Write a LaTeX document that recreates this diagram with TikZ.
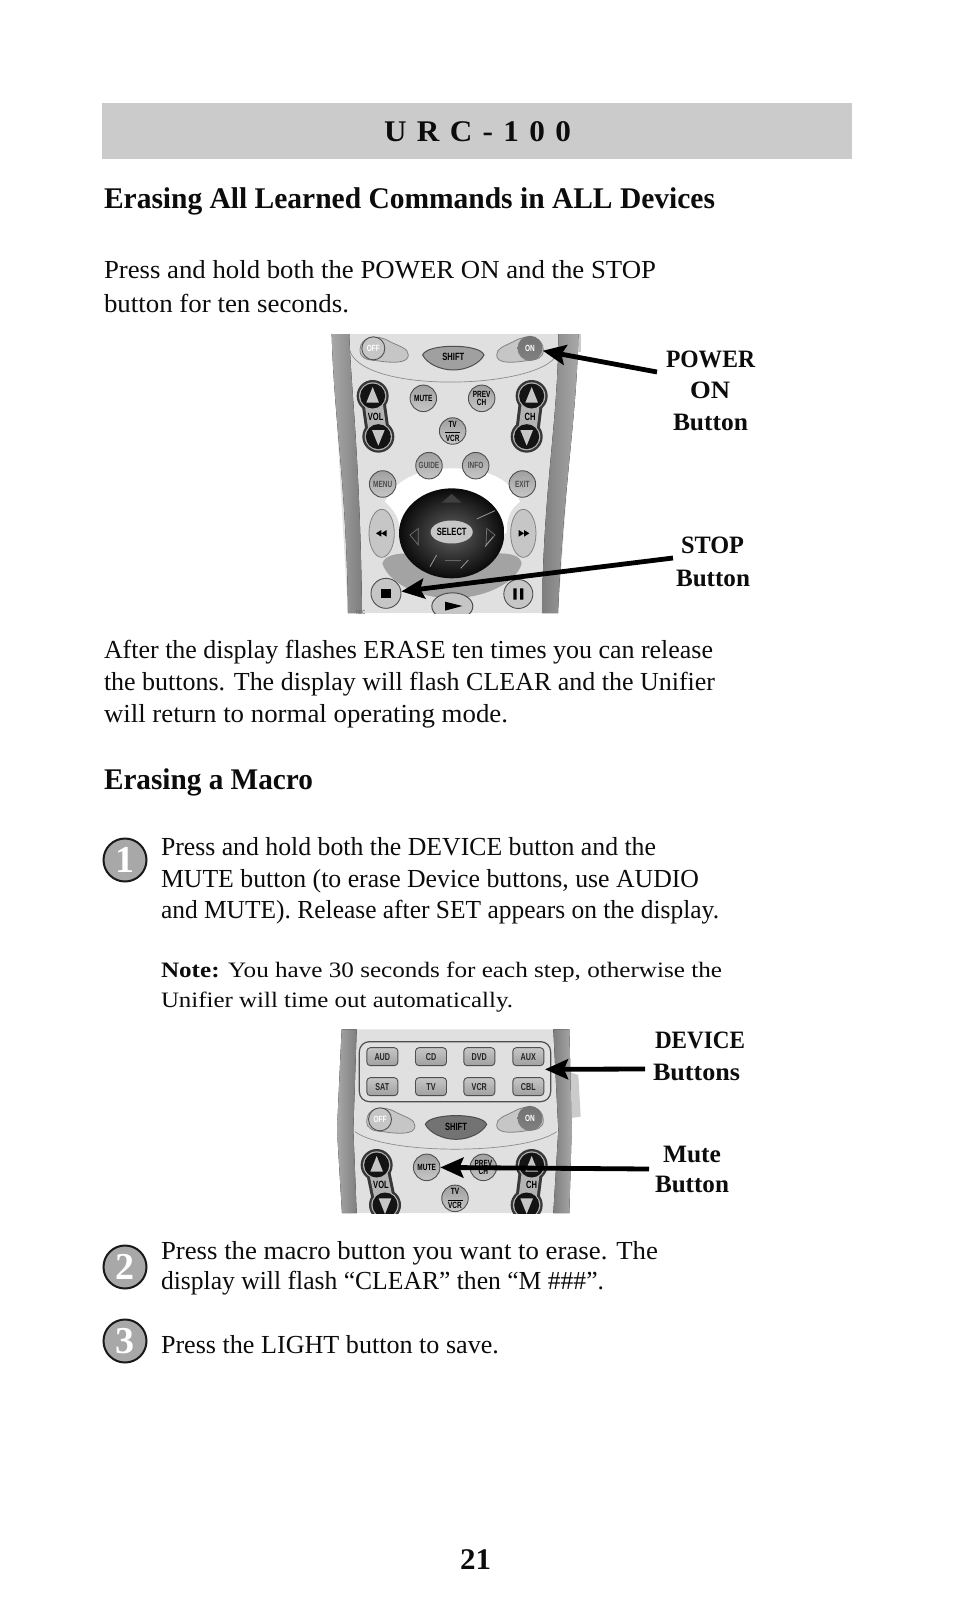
\documentclass[tikz,border=0pt]{standalone}
\usepackage{fontspec}
\usepackage{graphicx}
\usetikzlibrary{arrows.meta,shapes.geometric,calc}
\setmainfont{Liberation Serif}
\newfontfamily\btf[FakeStretch=0.72]{Liberation Sans}
\definecolor{barg}{HTML}{CBCBCB}
\definecolor{bodyg}{HTML}{E0E0E0}
\definecolor{bandd}{HTML}{7E7E7E}
\definecolor{bandl}{HTML}{A8A8A8}
\definecolor{btng}{HTML}{A0A0A0}
\definecolor{btnl}{HTML}{C6C6C6}
\definecolor{rim}{HTML}{4E4E4E}
\definecolor{ink}{HTML}{0C0C0C}
\newcommand\fsz[1]{\fontsize{#1}{#1}\selectfont}
% name, x, baseline, width, size, text
\newcommand\tl[6]{\node[txtline] (#1) at (#2,#3) {\fsz{#5}\resizebox{#4pt}{\height}{#6}};}
\newcommand\tb[6]{\node[txtline] (#1) at (#2,#3) {\fsz{#5}\bfseries\resizebox{#4pt}{\height}{#6}};}
% round button: name,x,y,text,colour
\newcommand\rbn[5]{\node[rbtn,text=#5] (#1) at (#2,#3) {#4};}
\newcommand\sqb[4]{\node[sbtn] (#1) at (#2,#3) {#4};}
\newcommand\offblob[2]{\filldraw[blob,shift={(#1,#2)}] (150,90) .. controls (150,50) and (200,40) .. (240,65) .. controls (270,80) and (295,85) .. (295,105) .. controls (295,130) and (250,130) .. (200,122) .. controls (170,120) and (150,115) .. (150,90) -- cycle;}
\newcommand\onblob[2]{\filldraw[blob,shift={(#1,#2)}] (700,90) .. controls (700,50) and (650,40) .. (610,65) .. controls (580,80) and (560,85) .. (560,105) .. controls (560,130) and (600,130) .. (650,122) .. controls (680,120) and (700,115) .. (700,90) -- cycle;}
\newcommand\shiftblob[2]{\filldraw[fill=#1,draw=rim,line width=1pt,shift={#2}] (338,105) .. controls (350,70) and (510,70) .. (522,105) .. controls (510,130) and (470,150) .. (430,150) .. controls (390,150) and (350,130) .. (338,105) -- cycle;}
% rocker: name prefix, x1,y1,x2,y2, label, labelx, labely
\newcommand\rocker[8]{%
  \draw[line width=24pt,rim!70!black] (#2,#3) -- (#4,#5);
  \fill[rim!70!black] (#2,#3) circle (48) (#4,#5) circle (48);
  \fill[btng!80!white] (#2,#3) circle (41) (#4,#5) circle (41);
  \draw[line width=18pt,btng!80!white] (#2,#3) -- (#4,#5);
  \node[rock] (#1u) at (#2,#3) {};
  \node[rock] (#1d) at (#4,#5) {};
  \fill[btnl] ($(#2,#3)+(0,-27)$) -- ($(#2,#3)+(19,20)$) -- ($(#2,#3)+(-19,20)$) -- cycle;
  \fill[btnl] ($(#4,#5)+(0,27)$) -- ($(#4,#5)+(19,-20)$) -- ($(#4,#5)+(-19,-20)$) -- cycle;
  \node[blabel,text=black] (#1t) at (#7,#8) {#6};
}
\tikzset{
  txtline/.style={anchor=base west,inner sep=0pt,outer sep=0pt,text=ink},
  rbtn/.style={circle,draw=rim,line width=0.9pt,top color=btng,bottom color=btnl,minimum size=26.5pt,inner sep=0pt,align=center,font=\btf\bfseries\fsz{9}},
  sbtn/.style={rectangle,rounded corners=3.5pt,draw=rim,line width=0.9pt,top color=btnl,bottom color=btng,minimum width=31pt,minimum height=18pt,inner sep=0pt,text=black!85,font=\btf\bfseries\fsz{10}},
  blob/.style={fill=btnl,draw=rim!70,line width=.8pt},
  rock/.style={circle,fill=black!92,minimum size=25pt,inner sep=0pt},
  blabel/.style={inner sep=0pt,font=\btf\bfseries\fsz{10.5}},
  pointer/.style={line width=4.8pt,draw=black,-{Stealth[length=23pt,width=20pt,inset=4pt]}},
  stepc/.style={circle,fill=black!34,draw=black!90,line width=2pt,minimum size=43pt,inner sep=0pt,text=white,font=\bfseries\fsz{38}},
}
\begin{document}
\begin{tikzpicture}[x=1pt,y=-1pt]
\useasboundingbox (0,0) rectangle (954,1616);
\fill[white] (0,0) rectangle (954,1616);
% header bar
\fill[barg] (102,103) rectangle (852,159);
\tb{title}{384}{142}{187}{30}{U\,\,R\,\,C\,\,-\,\,1\,\,0\,\,0}
\tb{h1}{104}{208}{611}{30}{Erasing All Learned Commands in ALL Devices}
\tl{p1}{104}{278}{552}{26}{Press and hold both the POWER ON and the STOP}
\tl{p2}{104}{312}{245}{26}{button for ten seconds.}
\tl{a1}{104}{658}{609}{26}{After the display flashes ERASE ten times you can release}
\tl{a2}{104}{690}{611}{26}{the buttons. The display will flash CLEAR and the Unifier}
\tl{a3}{104}{722}{404}{26}{will return to normal operating mode.}
\tb{h2}{104}{789}{209}{30}{Erasing a Macro}
\node[stepc] (s1) at (125,860) {1};
\tl{b1}{161}{855}{495}{26}{Press and hold both the DEVICE button and the}
\tl{b2}{161}{887}{538}{26}{MUTE button (to erase Device buttons, use AUDIO}
\tl{b3}{161}{918}{558}{26}{and MUTE). Release after SET appears on the display.}
\tl{n1}{161}{977}{561}{22}{\textbf{Note:} You have 30 seconds for each step, otherwise the}
\tl{n2}{161}{1007}{352}{22}{Unifier will time out automatically.}
\node[stepc] (s2) at (125,1267) {2};
\tl{c1}{161}{1259}{497}{26}{Press the macro button you want to erase. The}
\tl{c2}{161}{1289}{443}{26}{display will flash “CLEAR” then “M \#\#\#”.}
\node[stepc] (s3) at (125,1341) {3};
\tl{c3}{161}{1353}{338}{26}{Press the LIGHT button to save.}
\tb{pg}{460}{1569}{31}{30}{21}
% ---------- remote 1
\begin{scope}[shift={(310,320)},x=0.33333pt,y=-0.33333pt]
  \begin{scope}
    \clip (60,42) rectangle (815,879);
    \fill[bodyg] (65,42) -- (805,42) -- (744,879) -- (114,879) -- cycle;
    \fill[barg] (800,42) rectangle (812,95);
    \fill[left color=bandl,right color=bandd] (65,42) -- (118,42) .. controls (122,200) and (150,400) .. (156,879) -- (114,879) .. controls (110,500) and (72,300) .. (65,42) -- cycle;
    \fill[left color=bandd,right color=bandl] (745,42) -- (805,42) .. controls (800,300) and (760,500) .. (744,879) -- (696,879) .. controls (700,500) and (745,300) .. (745,42) -- cycle;
    \draw[black!45,line width=.7pt] (117,80) .. controls (130,230) and (730,210) .. (746,90);
    \fill[white] (225,545) .. controls (260,470) and (340,445) .. (430,445) .. controls (520,445) and (600,470) .. (630,545) .. controls (600,570) and (590,590) .. (590,640) -- (270,640) .. controls (270,590) and (250,570) .. (225,545) -- cycle;
    \fill[black!36] (217,730) .. controls (225,705) and (260,700) .. (300,700) -- (560,700) .. controls (600,700) and (630,705) .. (635,730) .. controls (620,790) and (520,835) .. (425,835) .. controls (330,835) and (235,790) .. (217,730) -- cycle;
    \offblob{0}{0}
    \onblob{0}{0}
    \shiftblob{btng}{(0,0)}
    \node[rbtn,minimum size=23pt,text=white,top color=btnl,bottom color=btnl] (off1) at (190,85) {OFF};
    \node[rbtn,minimum size=25pt,text=white,top color=black!55,bottom color=black!50,draw=none] (on1) at (660,85) {ON};
    \node[blabel,text=black] (shift1) at (430,112) {SHIFT};
    \rocker{v1}{188}{228}{205}{350}{VOL}{197}{292}
    \rocker{c1r}{665}{228}{650}{350}{CH}{660}{290}
    \rbn{mute1}{340}{235}{MUTE}{black}
    \rbn{prev1}{515}{235}{PREV\\[-1pt]CH}{black}
    \rbn{tv1}{428}{333}{TV\\[-3pt]\rule{15pt}{.6pt}\\[-1pt]VCR}{black}
    \rbn{guide}{357}{437}{GUIDE}{black!70}
    \rbn{info}{497}{437}{INFO}{black!70}
    \rbn{menu}{218}{492}{MENU}{black!70}
    \rbn{exit}{637}{492}{EXIT}{black!70}
    % transport
    \filldraw[blob] (215,640) ellipse (38 and 72);
    \filldraw[blob] (640,640) ellipse (38 and 72);
    \fill[black] (198,640) -- (214,630) -- (214,650) -- cycle (214,640) -- (230,630) -- (230,650) -- cycle;
    \fill[black] (658,640) -- (642,630) -- (642,650) -- cycle (642,640) -- (626,630) -- (626,650) -- cycle;
    % d-pad
    \shade[inner color=black!62,outer color=black!96] (425,640) ellipse (158 and 135);
    \fill[black!75] (395,548) -- (425,522) -- (455,548) -- cycle;
    \draw[black!55,line width=.7pt] (530,625) -- (555,645) -- (528,675) -- cycle;
    \draw[black!55,line width=.7pt] (325,625) -- (300,645) -- (325,675) -- cycle;
    \draw[black!60,line width=1pt] (405,722) -- (452,722);
    \draw[black!40,line width=.8pt] (500,597) -- (555,572) (525,680) -- (550,650) (360,740) -- (380,705) (452,745) -- (475,720);
    \node[ellipse,fill=btnl,minimum width=37pt,minimum height=23pt,inner sep=0pt,font=\btf\bfseries\fsz{10.5},text=black] (select) at (425,636) {SELECT};
    % bottom row
    \node[rbtn,minimum size=30pt,top color=btnl,bottom color=btnl] (stop) at (228,820) {};
    \fill[black] (214,806) rectangle (242,834);
    \node[rbtn,minimum size=29pt,top color=btnl,bottom color=btnl] (pause) at (625,822) {};
    \fill[black] (610,805) rectangle (620,839) (630,805) rectangle (640,839);
    \node[ellipse,draw=rim,line width=1pt,fill=btnl,minimum width=41pt,minimum height=27pt,inner sep=0pt] (play) at (427,859) {};
    \fill[black] (405,845) -- (457,858) -- (405,872) -- cycle;
    \node[inner sep=0pt,font=\btf\bfseries\fsz{6},text=black!55] (rec) at (152,878) {REC};
  \end{scope}
\end{scope}
% ---------- remote 2
\begin{scope}[shift={(320,990)},x=0.33333pt,y=-0.33333pt]
  \begin{scope}
    \clip (40,118) rectangle (785,669);
    \fill[barg] (745,245) -- (775,255) -- (782,380) -- (745,385) -- cycle;
    \fill[bodyg] (65,118) -- (748,118) -- (755,420) -- (748,669) -- (66,669) -- (51,420) -- cycle;
    \fill[left color=bandl,right color=bandd] (65,118) -- (110,118) -- (100,420) -- (110,669) -- (66,669) -- (51,420) -- cycle;
    \fill[left color=bandd,right color=bandl] (700,118) -- (748,118) -- (755,420) -- (748,669) -- (700,669) -- (715,420) -- cycle;
    \draw[black!45,line width=.7pt] (105,425) .. controls (200,495) and (610,495) .. (710,425);
    \draw[rim,line width=1.2pt,rounded corners=10pt] (118,155) rectangle (692,335);
    \sqb{aud}{187}{200}{AUD}
    \sqb{cd}{333}{200}{CD}
    \sqb{dvd}{478}{200}{DVD}
    \sqb{aux}{625}{200}{AUX}
    \sqb{sat}{187}{290}{SAT}
    \sqb{tvb}{333}{290}{TV}
    \sqb{vcr}{478}{290}{VCR}
    \sqb{cbl}{625}{290}{CBL}
    \coordinate (grp) at (675,238);
    \offblob{-10}{303}
    \onblob{-30}{300}
    \shiftblob{black!55}{(-22,298)}
    \node[rbtn,minimum size=23pt,text=white,top color=btnl,bottom color=btnl] (off2) at (180,388) {OFF};
    \node[rbtn,minimum size=25pt,text=white,top color=black!55,bottom color=black!50,draw=none] (on2) at (630,385) {ON};
    \node[blabel,text=black] (shift2) at (408,410) {SHIFT};
    \rocker{v2}{170}{525}{195}{645}{VOL}{183}{585}
    \rocker{c2r}{635}{525}{620}{645}{CH}{635}{585}
    \rbn{mute2}{320}{532}{MUTE}{black}
    \rbn{prev2}{490}{532}{PREV\\[-1pt]CH}{black}
    \rbn{tv2}{405}{625}{TV\\[-3pt]\rule{15pt}{.6pt}\\[-1pt]VCR}{black}
  \end{scope}
\end{scope}
% labels
\tb{lp1}{666}{367}{89}{25}{POWER}
\tb{lp2}{690}{398}{40}{25}{ON}
\tb{lp3}{673}{430}{75}{25}{Button}
\tb{ls1}{681}{553}{63}{25}{STOP}
\tb{ls2}{676}{586}{74}{25}{Button}
\tb{ld1}{655}{1048}{90}{25}{DEVICE}
\tb{ld2}{653}{1080}{87}{25}{Buttons}
\tb{lm1}{663}{1162}{58}{25}{Mute}
\tb{lm2}{655}{1192}{74}{25}{Button}
% arrows
\coordinate (tp) at (657,372);
\coordinate (ts) at (673,558);
\coordinate (td) at (645,1069);
\coordinate (tm) at (649,1169);
\draw[pointer] (tp) -- (on1);
\draw[pointer] (ts) -- (stop);
\draw[pointer] (td) -- (grp);
\draw[pointer] (tm) -- (mute2);
\end{tikzpicture}
\end{document}
